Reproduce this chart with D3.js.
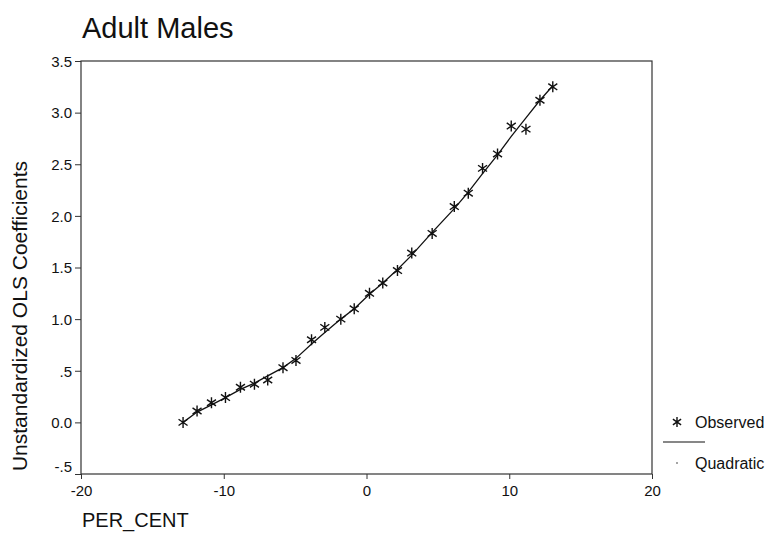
<!DOCTYPE html>
<html><head><meta charset="utf-8">
<script src="https://cdn.jsdelivr.net/npm/d3@7"></script>
<style>body{margin:0;background:#fff}svg{display:block}</style>
</head><body>
<script>
const percent = [-12.85,-11.87,-10.86,-9.88,-8.83,-7.85,-6.92,-5.85,-4.94,-3.85,-2.92,-1.80,-0.86,0.21,1.14,2.17,3.17,4.60,6.15,7.13,8.13,9.18,10.14,11.17,12.15,13.05];
const observed = [0.00,0.11,0.19,0.24,0.34,0.37,0.41,0.53,0.60,0.80,0.92,1.00,1.10,1.25,1.35,1.47,1.64,1.83,2.09,2.22,2.46,2.60,2.87,2.84,3.12,3.25];
const quadratic = [0.00,0.10,0.17,0.24,0.32,0.38,0.45,0.53,0.62,0.76,0.87,1.00,1.10,1.24,1.35,1.48,1.62,1.84,2.07,2.23,2.41,2.59,2.77,2.95,3.12,3.26];
const xTicks = [-20,-10,0,10,20];
const yTicks = [-0.5,0,0.5,1,1.5,2,2.5,3,3.5];
const yTickLabels = ["-.5","0.0",".5","1.0","1.5","2.0","2.5","3.0","3.5"];

const W=770,H=554;
const FF="'Liberation Sans', Arial, sans-serif";
const svg=d3.select("body").append("svg").attr("width",W).attr("height",H)
  .style("font-family",FF);
const L=81,R=652,T=61,B=474;
const x=d3.scaleLinear().domain([-20,20]).range([L,R]);
const y=d3.scaleLinear().domain([-0.5,3.5]).range([B,T]);

svg.append("rect").attr("x",L).attr("y",T).attr("width",R-L).attr("height",B-T)
  .attr("fill","none").attr("stroke","#333").attr("stroke-width",1.2);

const xa=svg.append("g").attr("transform",`translate(0,${B})`)
  .call(d3.axisBottom(x).tickValues(xTicks).tickSize(5).tickSizeOuter(0).tickFormat(d=>d));
xa.select(".domain").remove();
xa.selectAll("line").attr("stroke","#333");
xa.selectAll("text").attr("font-size",15).attr("fill","#111").attr("dy","0.9em").attr("font-family",FF);

const ya=svg.append("g").attr("transform",`translate(${L},0)`)
  .call(d3.axisLeft(y).tickValues(yTicks).tickSize(6).tickSizeOuter(0).tickFormat((d,i)=>yTickLabels[i]));
ya.select(".domain").remove();
ya.selectAll("line").attr("stroke","#333");
ya.selectAll("text").attr("font-size",15).attr("fill","#111").attr("x",-9).attr("font-family",FF)
  .attr("dy",(d)=>d===-0.5?"-0.15em":"0.35em");

// fitted line
const lineGen=d3.line().x((d,i)=>x(percent[i])).y(d=>y(d));
svg.append("path").datum(quadratic).attr("d",lineGen).attr("fill","none")
  .attr("stroke","#111").attr("stroke-width",1.3);

// asterisk marker
function star(g,cx,cy,r){
  const a=[90,35,145];
  let d="";
  a.forEach(deg=>{const rad=deg*Math.PI/180;const dx=r*Math.cos(rad),dy=r*Math.sin(rad);
    d+=`M${cx-dx},${cy-dy}L${cx+dx},${cy+dy}`;});
  g.append("path").attr("d",d).attr("stroke","#111").attr("stroke-width",1.4).attr("fill","none");
}
const pg=svg.append("g");
observed.forEach((v,i)=>star(pg,x(percent[i]),y(v),5.5));

// title
svg.append("text").attr("x",82).attr("y",38).attr("font-size",29).attr("fill","#111").text("Adult Males");
// y title
svg.append("text").attr("transform",`translate(27,316) rotate(-90)`).attr("text-anchor","middle")
  .attr("font-size",21).attr("fill","#111").text("Unstandardized OLS Coefficients");
// x title
svg.append("text").attr("x",82).attr("y",527).attr("font-size",20).attr("fill","#111").text("PER_CENT");

// legend
const lg=svg.append("g");
star(lg,677,422,5);
lg.append("text").attr("x",695).attr("y",428).attr("font-size",16).attr("fill","#111").text("Observed");
lg.append("line").attr("x1",663).attr("x2",705).attr("y1",442).attr("y2",442).attr("stroke","#111").attr("stroke-width",1.2);
lg.append("circle").attr("cx",677).attr("cy",463).attr("r",0.8).attr("fill","#333");
lg.append("text").attr("x",695).attr("y",469).attr("font-size",16).attr("fill","#111").text("Quadratic");
</script>
</body></html>
